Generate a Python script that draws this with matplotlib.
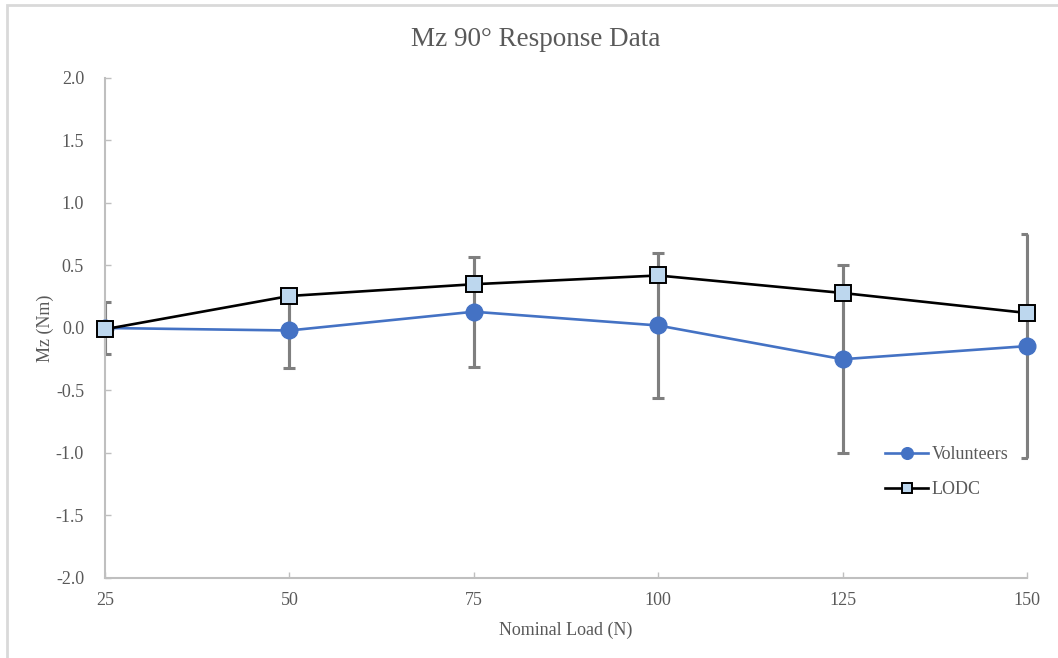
import matplotlib
matplotlib.use('Agg')
import matplotlib.pyplot as plt
from matplotlib.patches import Rectangle

# Data
loads = [25, 50, 75, 100, 125, 150]
volunteers = [0.00, -0.02, 0.13, 0.02, -0.25, -0.145]
volunteers_err = [0.21, 0.30, 0.44, 0.58, 0.75, 0.895]
lodc = [-0.01, 0.256, 0.35, 0.42, 0.28, 0.12]
y_ticks = [-2.0, -1.5, -1.0, -0.5, 0.0, 0.5, 1.0, 1.5, 2.0]

plt.rcParams['font.family'] = ['Liberation Serif', 'DejaVu Serif']
text_color = '#595959'
axis_color = '#bfbfbf'
err_color = '#7f7f7f'

fig = plt.figure(figsize=(10.58, 6.58), dpi=100)
ax = fig.add_axes([0.0992, 0.1216, 0.8715, 0.7599])

# error bars: caps clipped at the plot edges, bars drawn in full
ax.errorbar(loads, volunteers, yerr=volunteers_err, fmt='none',
            ecolor=err_color, elinewidth=2.2, capsize=4.5, capthick=2.2,
            zorder=2)
lo = [v - e for v, e in zip(volunteers, volunteers_err)]
hi = [v + e for v, e in zip(volunteers, volunteers_err)]
ax.vlines(loads, lo, hi, colors=err_color, lw=2.2, zorder=2, clip_on=False)

ax.plot(loads, volunteers, color='#4472C4', lw=1.9, marker='o', ms=12,
        mfc='#4472C4', mec='#4472C4', label='Volunteers', zorder=3,
        clip_on=False)
ax.plot(loads, lodc, color='black', lw=1.9, marker='s', ms=11,
        mfc='#BDD7EE', mec='black', mew=1.4, label='LODC', zorder=4,
        clip_on=False)

ax.set_xlim(25, 150)
ax.set_ylim(-2.0, 2.0)
ax.set_xticks(loads)
ax.set_yticks(y_ticks)
ax.set_yticklabels([f'{v:.1f}' for v in y_ticks])

for side in ['top', 'right']:
    ax.spines[side].set_visible(False)
for side in ['left', 'bottom']:
    ax.spines[side].set_color(axis_color)
    ax.spines[side].set_linewidth(1.5)
ax.tick_params(axis='both', direction='in', length=4, width=1,
               color=axis_color, labelcolor=text_color, labelsize=13)
ax.tick_params(axis='x', pad=10)
ax.tick_params(axis='y', pad=15)

fig.text(0.506, 0.94, 'Mz 90° Response Data', fontsize=19.5,
         color=text_color, ha='center', va='center')
ax.set_xlabel('Nominal Load (N)', fontsize=13, color=text_color, labelpad=9)
ax.set_ylabel('Mz (Nm)', fontsize=13, color=text_color, labelpad=1)

leg = ax.legend(loc='upper left', bbox_to_anchor=(0.838, 0.278), frameon=False,
                fontsize=13, handlelength=2.4, handletextpad=0.2,
                labelspacing=1.0, borderaxespad=0, markerscale=0.7)
for t in leg.get_texts():
    t.set_color(text_color)

# light chart-area border
fig.patches.append(Rectangle((7 / 1058, -0.05), 1.1, (653 / 658) + 0.05,
                             transform=fig.transFigure, fill=False,
                             edgecolor='#d9d9d9', lw=2))

fig.savefig('out.png', dpi=100)
